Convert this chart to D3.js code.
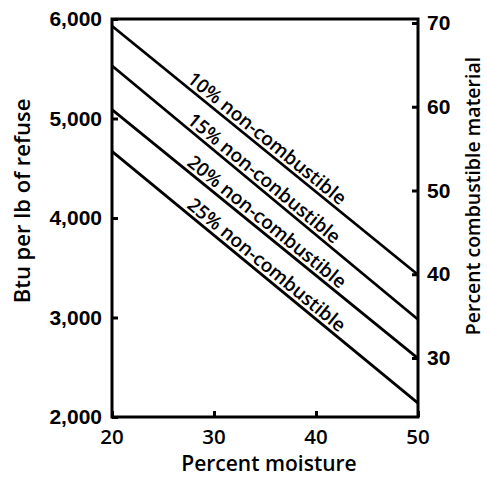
<!DOCTYPE html>
<html>
<head>
<meta charset="utf-8">
<script src="https://cdn.jsdelivr.net/npm/d3@7"></script>
<style>
  body { margin: 0; background: #fff; }
  svg { font-family: "Open Sans", sans-serif; }
</style>
</head>
<body>
<div id="root"></div>
<script>
// data
const moisture = [20, 50];
const labels = ['10% non-combustible', '15% non-conbustible', '20% non-combustible', '25% non-combustible'];
const btuAt20 = [5930, 5530, 5090, 4670];
const btuAt50 = [3430, 2980, 2590, 2140];
const xTicks = [20, 30, 40, 50];
const leftTicks = [2000, 3000, 4000, 5000, 6000];
const rightTicks = [30, 40, 50, 60, 70];

const w = 487, h = 477;
const margin = {top: 19, right: 69, bottom: 60, left: 112};

const svg = d3.select('#root').append('svg')
    .attr('width', w)
    .attr('height', h);

const x = d3.scaleLinear().domain([20, 50]).range([margin.left, w - margin.right]);
const y = d3.scaleLinear().domain([2000, 6000]).range([h - margin.bottom, margin.top]);
// right axis: 70 sits a bit below the top, 30 near the 2,600 level
const yR = d3.scaleLinear().domain([30, 70]).range([358, 23]);

// frame
svg.append('rect')
    .attr('x', margin.left)
    .attr('y', margin.top)
    .attr('width', w - margin.left - margin.right)
    .attr('height', h - margin.top - margin.bottom)
    .attr('fill', 'none')
    .attr('stroke', '#000')
    .attr('stroke-width', 3);

// axes, ticks pointing inward
const xAxis = d3.axisTop(x).tickValues(xTicks).tickSize(6).tickFormat('');
svg.append('g')
    .attr('transform', `translate(0,${h - margin.bottom})`)
    .call(xAxis);
svg.append('g')
    .selectAll('text')
    .data(xTicks)
    .enter()
    .append('text')
    .attr('x', d => x(d))
    .attr('y', 444)
    .attr('text-anchor', 'middle')
    .attr('font-size', 20.5)
    .attr('font-weight', 600)
    .text(d => d);

const yAxis = d3.axisRight(y).tickValues(leftTicks).tickSize(6).tickFormat(d3.format(','));
svg.append('g')
    .attr('transform', `translate(${margin.left},0)`)
    .call(yAxis)
    .call(g => g.selectAll('text')
        .attr('x', -10)
        .attr('text-anchor', 'end')
        .attr('font-size', 21)
        .attr('font-weight', 600));

const yAxisR = d3.axisLeft(yR).tickValues(rightTicks).tickSize(6);
svg.append('g')
    .attr('transform', `translate(${w - margin.right},0)`)
    .call(yAxisR)
    .call(g => g.selectAll('text')
        .attr('x', 9)
        .attr('text-anchor', 'start')
        .attr('font-size', 21)
        .attr('font-weight', 600));

svg.selectAll('.domain').remove();
svg.selectAll('.tick line').attr('stroke', '#000').attr('stroke-width', 3);
svg.selectAll('.tick text').attr('fill', '#000');

// lines
const line = d3.line().x(d => x(d[0])).y(d => y(d[1]));
labels.forEach((lab, i) => {
    const pts = [[moisture[0], btuAt20[i]], [moisture[1], btuAt50[i]]];
    svg.append('path')
        .attr('d', line(pts))
        .attr('fill', 'none')
        .attr('stroke', '#000')
        .attr('stroke-width', 2.8);

    const ang = Math.atan2(y(btuAt50[i]) - y(btuAt20[i]), x(50) - x(20)) * 180 / Math.PI;
    const m = 27;
    const b = btuAt20[i] + (btuAt50[i] - btuAt20[i]) * (m - 20) / 30;
    svg.append('text')
        .attr('transform', `translate(${x(m)},${y(b)})rotate(${ang})`)
        .attr('dy', -4)
        .attr('font-size', 19)
        .attr('font-weight', 600)
        .text(lab);
});

// axis titles
svg.append('text')
    .attr('x', 269)
    .attr('y', 471)
    .attr('text-anchor', 'middle')
    .attr('font-size', 21)
    .attr('font-weight', 600)
    .text('Percent moisture');

svg.append('text')
    .attr('text-anchor', 'middle')
    .attr('transform', 'translate(30,201)rotate(-90)')
    .attr('font-size', 22)
    .attr('font-weight', 600)
    .text('Btu per lb of refuse');

svg.append('text')
    .attr('text-anchor', 'middle')
    .attr('transform', 'translate(480,196)rotate(-90)')
    .attr('font-size', 19.5)
    .attr('font-weight', 600)
    .text('Percent combustible material');
</script>
</body>
</html>
